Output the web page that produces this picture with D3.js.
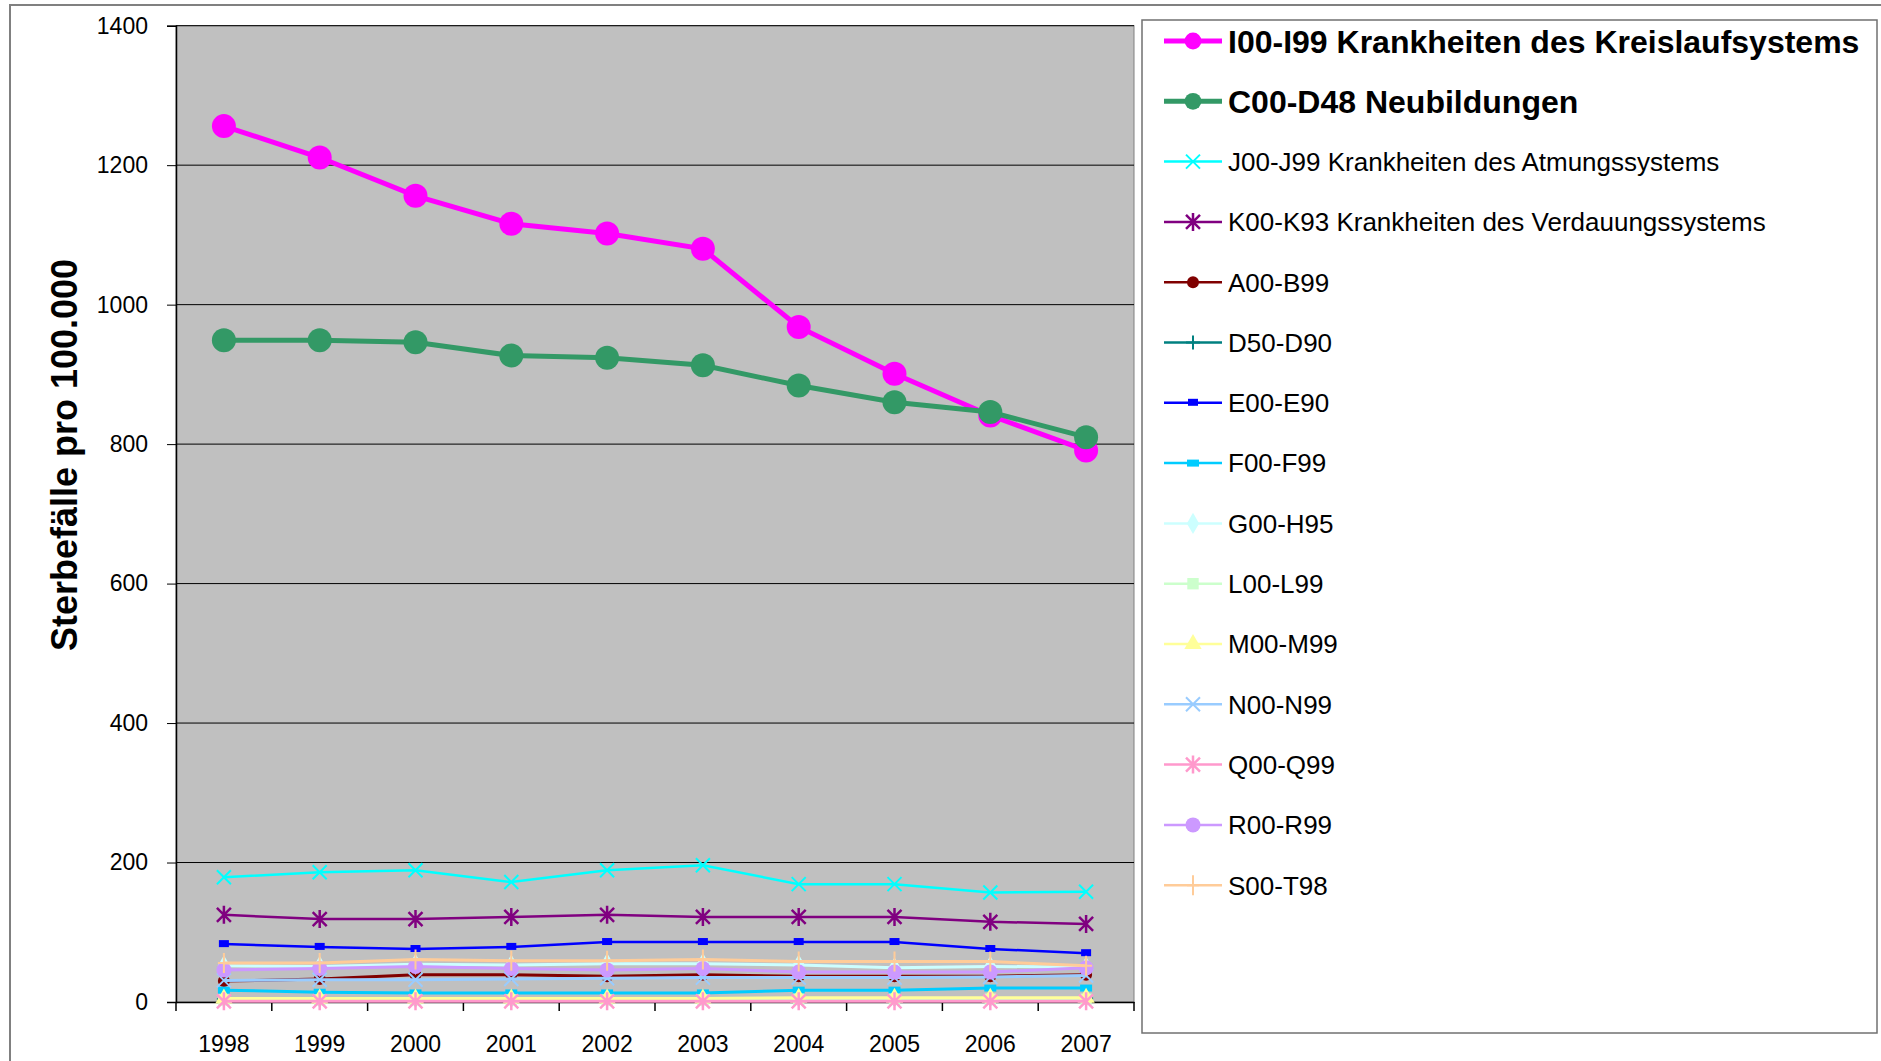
<!DOCTYPE html>
<html>
<head>
<meta charset="utf-8">
<script src="https://cdn.jsdelivr.net/npm/d3@7/dist/d3.min.js"></script>
<style>
  body { margin: 0; background: #fff; }
  text { font-family: "Liberation Sans", Arial, sans-serif; }
</style>
</head>
<body>
<div class="chartArea"></div>
<script>
// data
const years = ['1998', '1999', '2000', '2001', '2002', '2003', '2004', '2005', '2006', '2007']
const yTicks = [0, 200, 400, 600, 800, 1000, 1200, 1400]
const seriesNames = [
  'I00-I99 Krankheiten des Kreislaufsystems',
  'C00-D48 Neubildungen',
  'J00-J99 Krankheiten des Atmungssystems',
  'K00-K93 Krankheiten des Verdauungssystems',
  'A00-B99', 'D50-D90', 'E00-E90', 'F00-F99', 'G00-H95',
  'L00-L99', 'M00-M99', 'N00-N99', 'Q00-Q99', 'R00-R99', 'S00-T98'
]
const i00 = [1256, 1211, 1156, 1116, 1102, 1080, 968, 901, 841, 791]
const c00 = [949, 949, 946, 927, 924, 913, 884, 860, 846, 810]
const j00 = [179, 186, 189, 172, 189, 196, 169, 169, 157, 158]
const k00 = [125, 119, 119, 122, 125, 122, 122, 122, 115, 112]
const a00 = [30, 33, 39, 39, 37, 39, 37, 37, 37, 39]
const d50 = [4, 4, 4, 4, 4, 4, 5, 5, 5, 5]
const e00 = [83, 79, 76, 79, 86, 86, 86, 86, 76, 70]
const f00 = [17, 14, 13, 13, 13, 13, 17, 17, 20, 20]
const g00 = [52, 51, 54, 53, 55, 55, 53, 49, 51, 50]
const l00 = [3, 3, 3, 3, 3, 3, 4, 4, 4, 4]
const m00 = [5, 5, 5, 5, 5, 5, 6, 6, 6, 6]
const n00 = [31, 32, 32, 33, 34, 35, 35, 35, 36, 38]
const q00 = [1, 1, 1, 1, 1, 1, 1, 1, 1, 1]
const r00 = [46, 48, 51, 48, 46, 48, 43, 43, 43, 49]
const s00 = [56, 56, 61, 59, 59, 61, 58, 58, 58, 52]
const seriesValues = [i00, c00, j00, k00, a00, d50, e00, f00, g00, l00, m00, n00, q00, r00, s00]

// styles
const colors = ['#FF00FF', '#339966', '#00FFFF', '#800080', '#800000', '#008080', '#0000FF',
                '#00CCFF', '#CCFFFF', '#CCFFCC', '#FFFF99', '#99CCFF', '#FF99CC', '#CC99FF', '#FFCC99']
const markers = ['bigdot', 'bigdot', 'x', 'star', 'dot', 'plus', 'dash', 'dash2', 'diamond',
                 'square', 'triangle', 'x', 'star', 'circle', 'tallplus']

const width = 1881, height = 1061
const plot = {left: 176, right: 1134, top: 25.7, bottom: 1002}

const svg = d3.select('.chartArea')
    .append('svg')
    .attr('width', width)
    .attr('height', height)

// outer chart border
svg.append('rect')
    .attr('x', 10).attr('y', 5)
    .attr('width', 1900).attr('height', 1100)
    .attr('fill', '#fff').attr('stroke', '#808080').attr('stroke-width', 2)

const xScale = d3.scaleBand()
    .domain(years)
    .range([plot.left, plot.right])
const yScale = d3.scaleLinear()
    .domain([0, 1400])
    .range([plot.bottom, plot.top])
const px = d => xScale(d) + xScale.bandwidth() / 2

// plot area
svg.append('rect')
    .attr('x', plot.left).attr('y', plot.top)
    .attr('width', plot.right - plot.left).attr('height', plot.bottom - plot.top)
    .attr('fill', '#C0C0C0').attr('stroke', '#808080')

// gridlines
svg.append('g').selectAll('line')
    .data(yTicks.filter(t => t > 0))
    .enter().append('line')
    .attr('x1', plot.left).attr('x2', plot.right)
    .attr('y1', d => yScale(d)).attr('y2', d => yScale(d))
    .attr('stroke', '#000').attr('stroke-width', 1)

// y axis
const yAxis = d3.axisLeft(yScale).tickValues(yTicks).tickFormat(d3.format('d')).tickSize(9).tickPadding(19)
const yG = svg.append('g')
    .attr('transform', `translate(${plot.left}, 0)`)
    .call(yAxis)
yG.select('.domain').attr('stroke', '#000').attr('stroke-width', 1.5)
yG.selectAll('text').attr('font-size', 23).attr('fill', '#000')
    .style('font-family', '"Liberation Sans", Arial, sans-serif')

// x axis: labels centred, ticks on category boundaries
const xAxis = d3.axisBottom(xScale).tickSize(0).tickPadding(34)
const xG = svg.append('g')
    .attr('transform', `translate(0, ${plot.bottom})`)
    .call(xAxis)
xG.select('.domain').attr('stroke', '#000').attr('stroke-width', 1.5)
xG.selectAll('text').attr('font-size', 23).attr('fill', '#000')
    .style('font-family', '"Liberation Sans", Arial, sans-serif')
svg.append('g').selectAll('line')
    .data(years.map(d => xScale(d)).concat([plot.right]))
    .enter().append('line')
    .attr('x1', d => d).attr('x2', d => d)
    .attr('y1', plot.bottom).attr('y2', plot.bottom + 9)
    .attr('stroke', '#000').attr('stroke-width', 1.5)

// y axis title
svg.append('text')
    .attr('transform', 'translate(77, 455) rotate(-90)')
    .attr('text-anchor', 'middle')
    .attr('font-size', 36).attr('font-weight', 'bold')
    .text('Sterbefälle pro 100.000')

// draw one marker
function drawMarker(g, type, color, x, y, legend) {
  const s = 1
  if (type === 'bigdot') {
    g.append('circle').attr('cx', x).attr('cy', y).attr('r', 12 * (legend ? 0.7 : 1)).attr('fill', color)
  } else if (type === 'dot') {
    g.append('circle').attr('cx', x).attr('cy', y).attr('r', 6 * s).attr('fill', color)
  } else if (type === 'circle') {
    g.append('circle').attr('cx', x).attr('cy', y).attr('r', 7.5 * s).attr('fill', color)
  } else if (type === 'x') {
    const h = 7 * s
    g.append('path').attr('d', `M${x-h},${y-h}L${x+h},${y+h}M${x-h},${y+h}L${x+h},${y-h}`)
        .attr('stroke', color).attr('stroke-width', 2)
  } else if (type === 'star') {
    const h = 7 * s
    g.append('path').attr('d', `M${x-h},${y-h}L${x+h},${y+h}M${x-h},${y+h}L${x+h},${y-h}M${x},${y-h-2}L${x},${y+h+2}`)
        .attr('stroke', color).attr('stroke-width', 2.5)
  } else if (type === 'plus') {
    const h = 7 * s
    g.append('path').attr('d', `M${x-h},${y}L${x+h},${y}M${x},${y-h}L${x},${y+h}`)
        .attr('stroke', color).attr('stroke-width', 2)
  } else if (type === 'tallplus') {
    g.append('path').attr('d', `M${x-6*s},${y}L${x+6*s},${y}M${x},${y-10*s}L${x},${y+10*s}`)
        .attr('stroke', color).attr('stroke-width', 2)
  } else if (type === 'dash') {
    g.append('rect').attr('x', x - 5 * s).attr('y', y - 4 * s).attr('width', 10 * s).attr('height', 7 * s).attr('fill', color)
  } else if (type === 'dash2') {
    g.append('rect').attr('x', x - 6 * s).attr('y', y - 3.5 * s).attr('width', 12 * s).attr('height', 7 * s).attr('fill', color)
  } else {
    const symbols = {diamond: d3.symbolDiamond, square: d3.symbolSquare, triangle: d3.symbolTriangle}
    g.append('path')
        .attr('transform', `translate(${x},${y})`)
        .attr('d', d3.symbol().type(symbols[type]).size(130 * s * s)())
        .attr('fill', color)
  }
}

// series lines and markers
const line = d3.line()
    .x((d, i) => px(years[i]))
    .y(d => yScale(d))

seriesValues.forEach((vals, k) => {
  const g = svg.append('g')
  const big = k < 2
  g.append('path')
      .attr('d', line(vals))
      .attr('fill', 'none')
      .attr('stroke', colors[k])
      .attr('stroke-width', big ? 5 : (k < 4 || k === 6 ? 2.5 : 3))
  vals.forEach((v, i) => drawMarker(g, markers[k], colors[k], px(years[i]), yScale(v), false))
})

// legend
const legend = svg.append('g')
legend.append('rect')
    .attr('x', 1142).attr('y', 20)
    .attr('width', 735).attr('height', 1013)
    .attr('fill', '#fff').attr('stroke', '#707070').attr('stroke-width', 1.5)

seriesNames.forEach((name, k) => {
  const y = 41 + k * 60.3
  const big = k < 2
  legend.append('line')
      .attr('x1', 1164).attr('x2', 1222)
      .attr('y1', y).attr('y2', y)
      .attr('stroke', colors[k]).attr('stroke-width', big ? 5 : 2.5)
  drawMarker(legend, markers[k], colors[k], 1193, y, true)
  legend.append('text')
      .attr('x', 1228).attr('y', y)
      .attr('dy', '0.36em')
      .attr('font-size', big ? 32 : 26)
      .attr('font-weight', big ? 'bold' : 'normal')
      .text(name)
})
</script>
</body>
</html>
